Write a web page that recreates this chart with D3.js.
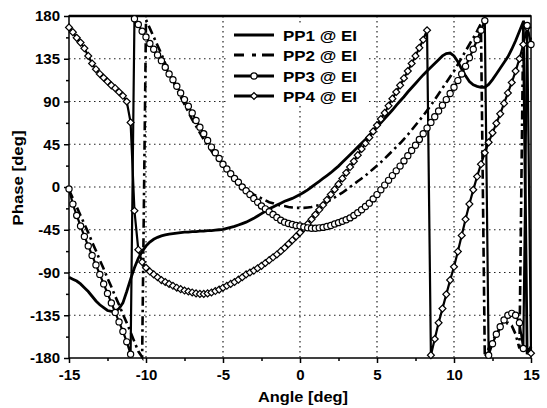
<!DOCTYPE html>
<html>
<head>
<meta charset="utf-8">
<script src="https://cdn.jsdelivr.net/npm/d3@7"></script>
<style>
  html, body { margin: 0; padding: 0; background: #fff; }
  svg { display: block; font-family: "Liberation Sans", Arial, sans-serif; }
</style>
</head>
<body>
<svg id="chart" width="547" height="408"></svg>
<script>
// sampled angles (deg)
const angles = [-15,-14.75,-14.5,-14.25,-14,-13.75,-13.5,-13.25,-13,-12.75,-12.5,-12.25,-12,-11.75,-11.5,-11.25,
  -11,-10.75,-10.5,-10.25,-10,-9.75,-9.5,-9.25,-9,-8.75,-8.5,-8.25,-8,-7.75,-7.5,-7.25,-7,-6.75,-6.5,-6.25,
  -6,-5.75,-5.5,-5.25,-5,-4.75,-4.5,-4.25,-4,-3.75,-3.5,-3.25,-3,-2.75,-2.5,-2.25,-2,-1.75,-1.5,-1.25,
  -1,-0.75,-0.5,-0.25,0,0.25,0.5,0.75,1,1.25,1.5,1.75,2,2.25,2.5,2.75,3,3.25,3.5,3.75,4,4.25,4.5,4.75,
  5,5.25,5.5,5.75,6,6.25,6.5,6.75,7,7.25,7.5,7.75,8,8.25,8.5,8.75,9,9.25,9.5,9.75,10,10.25,10.5,10.75,
  11,11.25,11.5,11.75,12,12.25,12.5,12.75,13,13.25,13.5,13.75,14,14.25,14.5,14.75,15];

// phase values (deg), one per angle
const pp1 = [-95,-97,-99,-102, -106,-110,-115,-120, -124,-127,-130,-131, -131,-128,-122,-110,
  -97,-85,-75,-68, -62,-58,-55,-53, -51.5,-50.5,-49.5,-49, -48.5,-48,-47.5,-47.5, -47,-47,-46.5,-46.5,
  -46,-46,-45.5,-45, -44.5,-43.5,-42.5,-41.5, -40,-38.5,-37,-35, -33,-30.5,-28,-25.5, -23,-21,-19,-17,
  -15,-13.5,-12,-10, -8,-5.5,-3,0, 3,6,9,12, 15,18.5,22,26, 30,34,38,42, 46,50,54.5,58.5,
  63,67.5,72,76.5, 81,86,90.5,95, 100,104.5,109,113.5, 118,122,126,130, 134,138,140.5,141,
  138,132,124,117, 111,107.5,106,105, 105,108,113,119, 125,131,137,145, 154,164,174,-176, -168];

const pp2 = [-3,-12,-21,-30, -39,-48,-58,-67, -77,-86,-96,-105, -115,-124,-134,-143,
  -153,-163,-173,-179, 176,167,158,149, 140,130,121,112, 103,95,87,79, 71,64,57,50,
  44,38,32,27, 22,17,13,9, 5,1,-2,-5, -8,-10,-12,-14, -16,-17,-18.5,-19.5,
  -20,-21,-21.5,-22, -22,-22,-21.5,-21, -20,-19,-17.5,-15.5, -13.5,-11,-8.5,-6, -3,0,3,6, 9,12,15.5,19,
  22.5,26,30,34, 38,42,46,50.5, 55,60,65,70, 75,80.5,86,92, 98,104,110,116,
  122,129,136,143, 150,157,164,172, -179,-170,-162,-155, -149,-145,-143,-146, -155,-170,175,165, 155];

const pp3 = [-2,-18,-30,-41, -52,-62,-72,-82, -92,-102,-112,-122, -132,-142,-152,-163,
  -176,177,171,164, 158,151,145,139, 133,126,119,113, 106,99,92,85, 78,70,63,56,
  49,42,36,30, 24,19,14,9, 5,0,-4,-8, -12,-16,-20,-23, -26,-29,-32,-35,
  -37,-38.5,-39.5,-40.5, -41,-42,-43,-43.5, -43.5,-43,-42.5,-41.5, -40.5,-39,-37.5,-36, -34.5,-32.5,-30,-27, -24,-20.5,-17,-12.5,
  -8,-3,2,7, 12,17,22,27.5, 33,38.5,44,50, 56,62,68,74, 80,86,92,98.5,
  105,112,119,127, 136,145,155,165, 175,-177,-165,-155, -147,-140,-135,-133, -135,-143,-170,170, 150];

const pp4 = [168,163,157,152, 146,138,130,124, 119,115,111,107, 104,100,96,90,
  68,-25,-66,-79, -85,-89,-92,-95, -98,-100,-102,-104, -106,-107.5,-109,-110, -111,-112,-112.5,-112.5,
  -112,-111,-109.5,-108, -106,-104,-102,-100, -97.5,-95,-92,-90, -88,-85.5,-83,-80, -77,-74,-71,-67.5,
  -64,-60,-56,-52, -48,-43.5,-39,-34, -29,-24,-19,-13.5, -8,-2.5,3,9, 15,21,27,33.5, 40,46,52,58.5,
  65,71.5,78,85.5, 93,100,107,114.5, 122,130,138,146.5, 155,165,-177,-160, -143,-128,-113,-98,
  -84,-68,-51,-34, -18,-3,11,24, 36,47,57,67, 77,88,99,110, 122,135,150,168, -175];

const xTicks = [-15, -10, -5, 0, 5, 10, 15];
const xMinor = [-12.5, -7.5, -2.5, 2.5, 7.5, 12.5];
const yTicks = [-180, -135, -90, -45, 0, 45, 90, 135, 180];
const yMinor = [-157.5, -112.5, -67.5, -22.5, 22.5, 67.5, 112.5, 157.5];
const seriesNames = ["PP1 @ EI", "PP2 @ EI", "PP3 @ EI", "PP4 @ EI"];

const svg = d3.select("#chart");
const pLeft = 69, pRight = 531, pTop = 16, pBottom = 358;

const x = d3.scaleLinear().domain([-15, 15]).range([pLeft, pRight]);
const y = d3.scaleLinear().domain([-180, 180]).range([pBottom, pTop]);

// grid
const grid = svg.append("g");
grid.selectAll("line.gx")
    .data(xTicks.filter(d => d > -15 && d < 15))
    .enter().append("line")
    .attr("x1", d => x(d)).attr("x2", d => x(d))
    .attr("y1", pTop).attr("y2", pBottom)
    .attr("stroke", "#222").attr("stroke-width", 1.2)
    .attr("stroke-dasharray", "1.5,3.5");
grid.selectAll("line.gy")
    .data(yTicks.filter(d => d > -180 && d < 180))
    .enter().append("line")
    .attr("x1", pLeft).attr("x2", pRight)
    .attr("y1", d => y(d)).attr("y2", d => y(d))
    .attr("stroke", "#222").attr("stroke-width", 1.2)
    .attr("stroke-dasharray", "1.5,3.5");

// axes
svg.append("g")
    .attr("transform", `translate(0,${pBottom})`)
    .call(d3.axisBottom(x).tickValues(xTicks).tickFormat(d => String(d)).tickSize(5).tickPadding(6));
svg.append("g")
    .attr("transform", `translate(0,${pBottom})`)
    .call(d3.axisBottom(x).tickValues(xMinor).tickFormat("").tickSize(3));
svg.append("g")
    .attr("transform", `translate(${pLeft},0)`)
    .call(d3.axisLeft(y).tickValues(yTicks).tickFormat(d => String(d)).tickSize(5).tickPadding(4));
svg.append("g")
    .attr("transform", `translate(${pLeft},0)`)
    .call(d3.axisLeft(y).tickValues(yMinor).tickFormat("").tickSize(3));

svg.selectAll(".domain").remove();
svg.selectAll(".tick line").attr("stroke", "#000").attr("stroke-width", 1.5);
svg.selectAll(".tick text")
    .attr("fill", "#000")
    .style("font-size", "15px")
    .style("font-weight", "bold");

// frame
svg.append("rect")
    .attr("x", pLeft).attr("y", pTop)
    .attr("width", pRight - pLeft).attr("height", pBottom - pTop)
    .attr("fill", "none").attr("stroke", "#000").attr("stroke-width", 1.5);
svg.append("line")
    .attr("x1", pLeft).attr("x2", pRight).attr("y1", pTop).attr("y2", pTop)
    .attr("stroke", "#000").attr("stroke-width", 2.5);

// legend background (drawn before the curves)
svg.append("rect")
    .attr("x", 228).attr("y", 23).attr("width", 138).attr("height", 82)
    .attr("fill", "#fff");

// curves
const line = d3.line()
    .x(d => x(d[0]))
    .y(d => y(d[1]));

const toPts = vals => angles.map((a, i) => [a, vals[i]]);

const plot = svg.append("g");

plot.append("path")
    .datum(toPts(pp1))
    .attr("d", line)
    .attr("fill", "none").attr("stroke", "#000").attr("stroke-width", 2.8);

plot.append("path")
    .datum(toPts(pp2))
    .attr("d", line)
    .attr("fill", "none").attr("stroke", "#000").attr("stroke-width", 2.6)
    .attr("stroke-dasharray", "9,4,2.5,4");

plot.append("path")
    .datum(toPts(pp4))
    .attr("d", line)
    .attr("fill", "none").attr("stroke", "#000").attr("stroke-width", 2.2);

plot.append("path")
    .datum(toPts(pp3))
    .attr("d", line)
    .attr("fill", "none").attr("stroke", "#000").attr("stroke-width", 2.2);

const diamond = d3.symbol(d3.symbolSquare, 24);

plot.selectAll("path.pp4m")
    .data(toPts(pp4))
    .enter().append("path")
    .attr("class", "pp4m")
    .attr("d", diamond)
    .attr("transform", d => `translate(${x(d[0])},${y(d[1])}) rotate(45)`)
    .attr("fill", "#fff").attr("stroke", "#000").attr("stroke-width", 1.2);

plot.selectAll("circle.pp3m")
    .data(toPts(pp3))
    .enter().append("circle")
    .attr("class", "pp3m")
    .attr("cx", d => x(d[0])).attr("cy", d => y(d[1]))
    .attr("r", 3.1)
    .attr("fill", "#fff").attr("stroke", "#000").attr("stroke-width", 1.2);

// legend
const legend = svg.append("g");
const rowsY = [35, 55, 76, 96];
seriesNames.forEach((name, i) => {
    const ly = rowsY[i];
    if (i === 1) {
        [[234, 244], [252, 256], [262, 274]].forEach(s => {
            legend.append("line").attr("x1", s[0]).attr("x2", s[1]).attr("y1", ly).attr("y2", ly)
                .attr("stroke", "#000").attr("stroke-width", 3);
        });
    } else {
        legend.append("line").attr("x1", 234).attr("x2", 274).attr("y1", ly).attr("y2", ly)
            .attr("stroke", "#000").attr("stroke-width", 3);
    }
    if (i === 2) {
        legend.append("circle").attr("cx", 254).attr("cy", ly).attr("r", 3.1)
            .attr("fill", "#fff").attr("stroke", "#000").attr("stroke-width", 1.2);
    }
    if (i === 3) {
        legend.append("path").attr("d", diamond)
            .attr("transform", `translate(254,${ly}) rotate(45)`)
            .attr("fill", "#fff").attr("stroke", "#000").attr("stroke-width", 1.2);
    }
    legend.append("text")
        .attr("x", 283).attr("y", ly + 5.5)
        .attr("textLength", 74).attr("lengthAdjust", "spacingAndGlyphs")
        .style("font-size", "15.5px").style("font-weight", "bold")
        .text(name);
});

// axis titles
svg.append("text")
    .attr("x", 303).attr("y", 402)
    .attr("text-anchor", "middle")
    .attr("textLength", 90).attr("lengthAdjust", "spacingAndGlyphs")
    .style("font-size", "15px").style("font-weight", "bold")
    .text("Angle [deg]");

svg.append("text")
    .attr("transform", "translate(23,178) rotate(-90)")
    .attr("text-anchor", "middle")
    .attr("textLength", 95).attr("lengthAdjust", "spacingAndGlyphs")
    .style("font-size", "15px").style("font-weight", "bold")
    .text("Phase [deg]");
</script>
</body>
</html>
